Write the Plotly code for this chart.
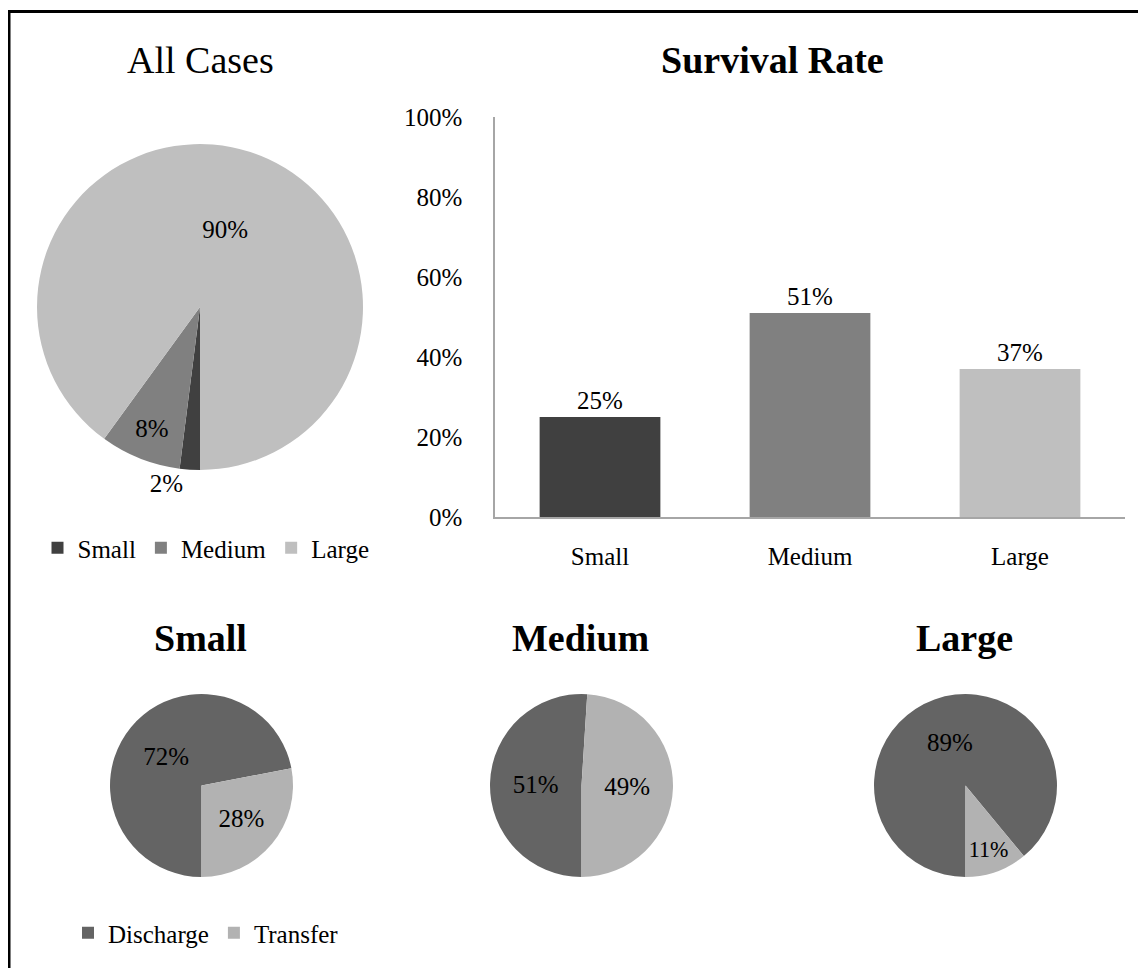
import plotly.graph_objects as go

W, H = 1146, 968
OFF = 8  # page body margin offset

# ---- data ----
size_labels = ["Small", "Medium", "Large"]
all_cases_share = [2, 8, 90]
survival_rate = [25, 51, 37]
outcome_labels = ["Discharge", "Transfer"]
small_outcome = [72, 28]
medium_outcome = [51, 49]
large_outcome = [89, 11]
y_ticks = [0, 20, 40, 60, 80, 100]
y_tick_text = ["0%", "20%", "40%", "60%", "80%", "100%"]

size_colors = ["#404040", "#808080", "#BFBFBF"]
outcome_colors = ["#646464", "#B2B2B2"]
FONT = "Liberation Serif"


def px_x(v):
    return (v - OFF) / W


def px_y(v):
    return 1 - (v - OFF) / H


def dom(cx, cy, r):
    return dict(x=[px_x(cx - r), px_x(cx + r)], y=[px_y(cy + r), px_y(cy - r)])


fig = go.Figure()

# All cases pie
fig.add_trace(go.Pie(
    labels=size_labels, values=all_cases_share, sort=False,
    direction="clockwise", rotation=180,
    marker=dict(colors=size_colors, line=dict(width=0)),
    textinfo="percent", texttemplate="%{value}%",
    textposition=["outside", "inside", "inside"],
    insidetextorientation="horizontal",
    textfont=dict(family=FONT, size=25, color="#000000"),
    domain=dom(200, 307, 163), legend="legend", showlegend=True,
    hoverinfo="label+percent",
))

# outcome pies
for cx, vals, lg in [(201.5, small_outcome, "legend2"),
                     (581.5, medium_outcome, "legend3"),
                     (965.5, large_outcome, "legend4")]:
    fig.add_trace(go.Pie(
        labels=outcome_labels, values=vals, sort=False,
        direction="clockwise", rotation=180,
        marker=dict(colors=outcome_colors, line=dict(width=0)),
        textinfo="percent", texttemplate="%{value}%",
        textposition="inside", insidetextorientation="horizontal",
        textfont=dict(family=FONT, size=25, color="#000000"),
        domain=dom(cx, 785.5, 91.5), legend=lg, showlegend=True,
    ))

# bar chart
fig.add_trace(go.Bar(
    x=size_labels, y=survival_rate,
    marker=dict(color=size_colors, line=dict(width=0)),
    text=[f"{v}%" for v in survival_rate], textposition="outside",
    textfont=dict(family=FONT, size=25, color="#000000"),
    cliponaxis=False, showlegend=False, width=0.575,
))

legend_common = dict(orientation="h", xanchor="center", yanchor="middle",
                     font=dict(family=FONT, size=25, color="#000000"),
                     bgcolor="rgba(0,0,0,0)", itemwidth=30, itemclick=False)

fig.update_layout(
    width=W, height=H,
    margin=dict(l=0, r=0, t=0, b=0, pad=0, autoexpand=False),
    paper_bgcolor="white", plot_bgcolor="white",
    font=dict(family=FONT, size=25, color="#000000"),
    xaxis=dict(domain=[px_x(495), px_x(1125)], showline=True, linecolor="#A6A6A6",
               linewidth=1.5, ticks="", showgrid=False, ticklabelstandoff=16,
               automargin=False,
               tickfont=dict(family=FONT, size=25, color="#000000")),
    yaxis=dict(domain=[px_y(517), px_y(117)], range=[0, 100], showline=True,
               linecolor="#A6A6A6", linewidth=1.5, ticks="", showgrid=False,
               zeroline=False, tickvals=y_ticks, ticktext=y_tick_text,
               ticklabelstandoff=26, automargin=False,
               tickfont=dict(family=FONT, size=25, color="#000000")),
    legend=dict(x=px_x(206), y=px_y(548), **legend_common),
    legend2=dict(x=px_x(206), y=px_y(933), **legend_common),
    legend3=dict(x=px_x(586), y=px_y(933), **legend_common),
    legend4=dict(x=px_x(969), y=px_y(933), **legend_common),
    bargap=0.42,
)

titles = [("All Cases", 200, 60, False), ("Survival Rate", 772, 60, True),
          ("Small", 200, 638, True), ("Medium", 580, 638, True), ("Large", 964, 638, True)]
for t, x, y, b in titles:
    fig.add_annotation(text=f"<b>{t}</b>" if b else t, x=px_x(x), y=px_y(y),
                       xref="paper", yref="paper", xanchor="center", yanchor="middle",
                       showarrow=False, font=dict(family=FONT, size=38, color="#000000"))

# outer frame (top and left edges visible)
fig.add_shape(type="line", xref="paper", yref="paper", x0=px_x(8), x1=1.0,
              y0=px_y(11.5), y1=px_y(11.5), line=dict(color="black", width=3))
fig.add_shape(type="line", xref="paper", yref="paper", x0=px_x(9), x1=px_x(9),
              y0=px_y(10), y1=0.0, line=dict(color="black", width=3))

fig.write_html("out.html")
